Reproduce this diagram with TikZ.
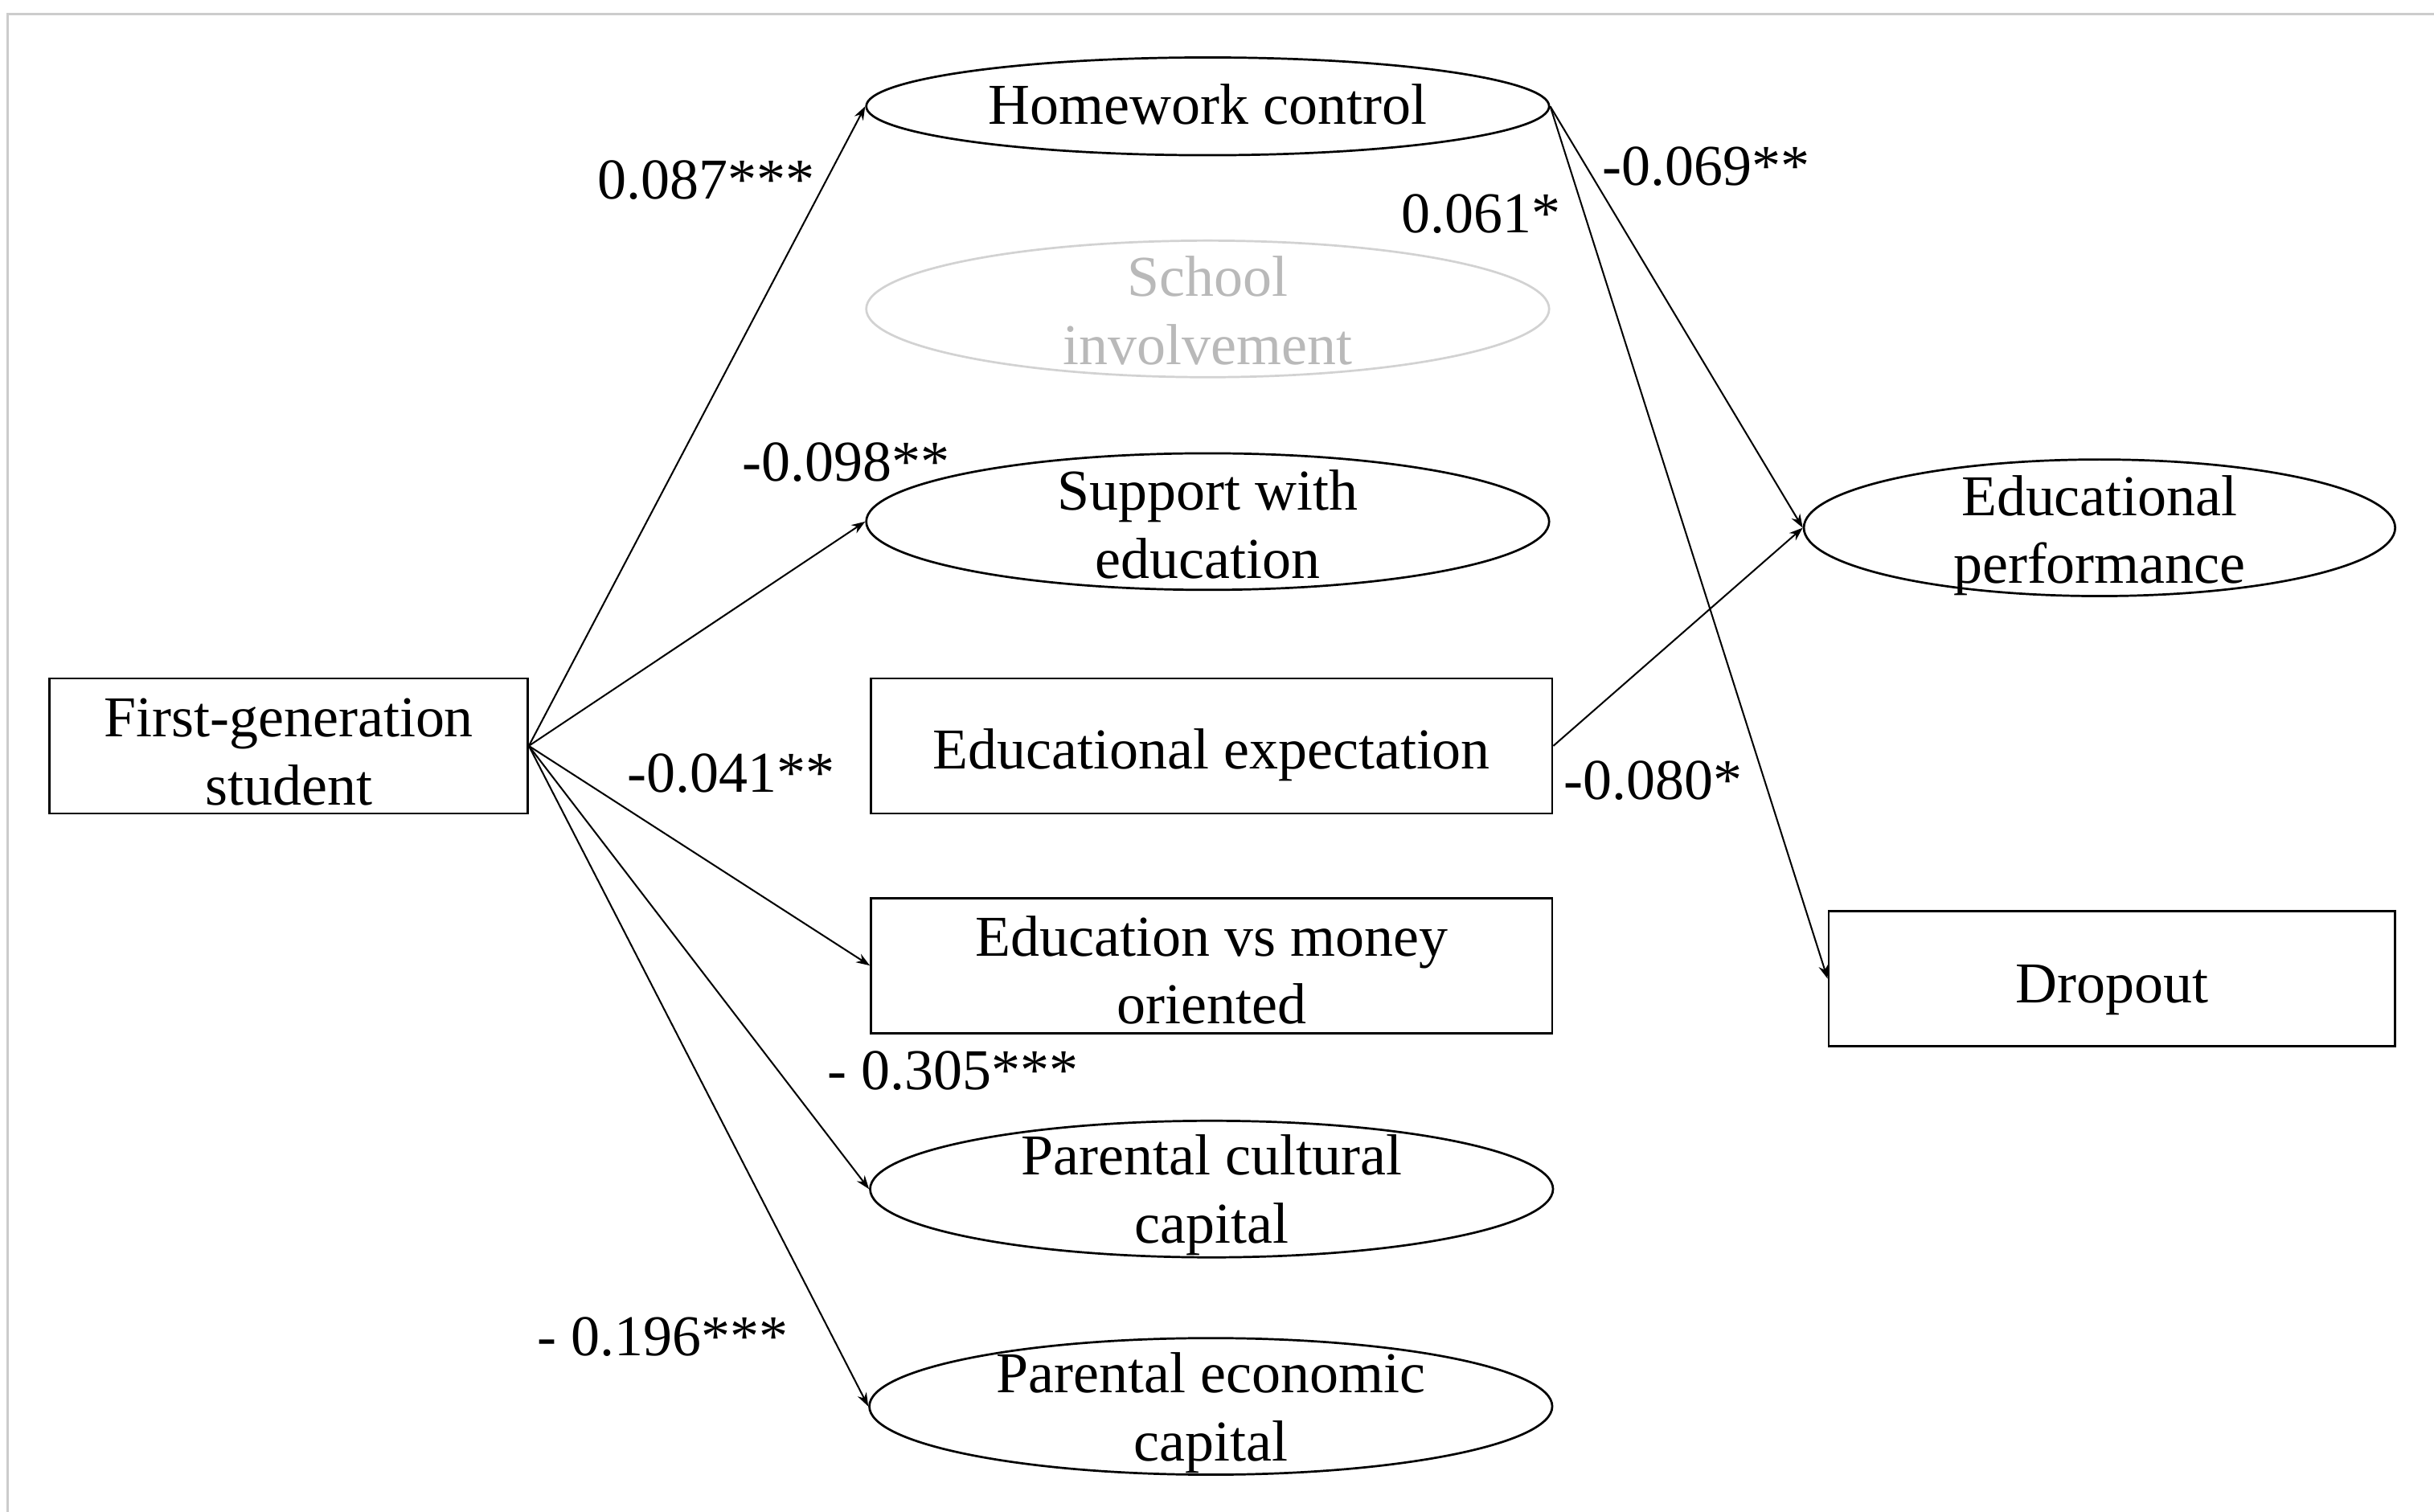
\documentclass[tikz,border=0pt]{standalone}
\usepackage{fontspec}
\setmainfont{Liberation Serif}
\usetikzlibrary{positioning}
\usetikzlibrary{arrows.meta}
\usetikzlibrary{shapes}
\tikzset{var node/.style={ellipse,draw,line width=0.8pt,minimum width=8.8cm,minimum height=1.76cm,inner sep=0pt},
obs node/.style={rectangle,draw,line width=0.8pt,minimum height=1.74cm,inner sep=0pt},
txt node/.style={align=center,inner sep=0pt,yshift=-0.08cm},
coef/.style={inner sep=0pt},}

\begin{document}
\begin{tikzpicture}[->,>={Stealth[length=5pt,width=3.6pt]},x=0.02cm,y=-0.02cm,font=\fontsize{21.2}{25}\selectfont,line width=0.6pt]
    \useasboundingbox (0,0) rectangle (1568,974);
    \draw[-,gray!40,line width=1pt] (5,974) -- (5,9) -- (1568,9);

    % exogenous variable
    \node[obs node,minimum width=6.16cm] (fgs) at (186,480.5) {};
    \node[txt node] (fgs-t) at (fgs) {First-generation\\student};

    % mediators
    \node[var node,minimum height=1.26cm] (hwc) at (778,68.5) {};
    \node[txt node,yshift=0.1cm] (hwc-t) at (hwc) {Homework control};
    \node[var node,draw=gray!35] (sch) at (778,199) {};
    \node[txt node,text=gray!55,yshift=0.06cm] (sch-t) at (sch) {School\\involvement};
    \node[var node] (sup) at (778,336) {};
    \node[txt node,yshift=0.04cm] (sup-t) at (sup) {Support with\\education};
    \node[obs node,minimum width=8.78cm] (exp) at (780.5,480.5) {};
    \node[txt node,yshift=-0.04cm] (exp-t) at (exp) {Educational expectation};
    \node[obs node,minimum width=8.78cm] (evm) at (780.5,622) {};
    \node[txt node,yshift=0.02cm] (evm-t) at (evm) {Education vs money\\oriented};
    \node[var node] (pcc) at (780.5,766) {};
    \node[txt node] (pcc-t) at (pcc) {Parental cultural\\capital};
    \node[var node] (pec) at (780,906) {};
    \node[txt node] (pec-t) at (pec) {Parental economic\\capital};

    % outcomes
    \node[var node,minimum width=7.62cm] (perf) at (1352.5,340) {};
    \node[txt node,yshift=-0.02cm] (perf-t) at (perf) {Educational\\performance};
    \node[obs node,minimum width=7.3cm] (drop) at (1360.5,630.5) {};
    \node[txt node,yshift=-0.06cm] (drop-t) at (drop) {Dropout};

    \path
    (fgs.east) edge (hwc.west)
    (fgs.east) edge (sup.west)
    (fgs.east) edge (evm.west)
    (fgs.east) edge (pcc.west)
    (fgs.east) edge (pec.west)
    (hwc.east) edge (perf.west)
    (hwc.east) edge (drop.west)
    (exp.east) edge (perf.west);

    \node[coef] (c1) at (455,116) {0.087***};
    \node[coef] (c2) at (545,298) {-0.098**};
    \node[coef] (c3) at (471,498) {-0.041**};
    \node[coef] (c4) at (614,690) {- 0.305***};
    \node[coef] (c5) at (427,861) {- 0.196***};
    \node[coef] (c6) at (1099,107) {-0.069**};
    \node[coef] (c7) at (954,138) {0.061*};
    \node[coef] (c8) at (1065,503) {-0.080*};
\end{tikzpicture}
\end{document}
